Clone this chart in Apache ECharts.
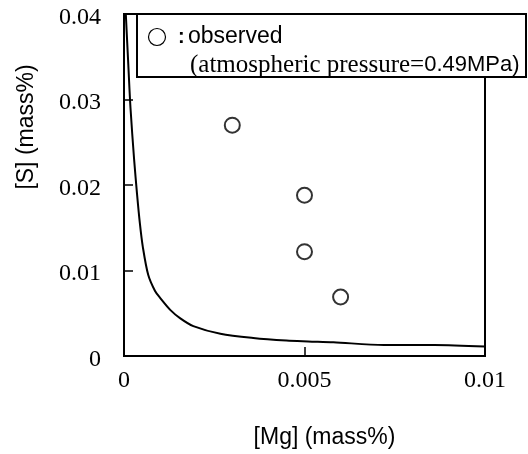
<!DOCTYPE html>
<html><head><meta charset="utf-8">
<script src="https://cdn.jsdelivr.net/npm/echarts@6/dist/echarts.min.js"></script>
<style>html,body{margin:0;padding:0;background:#fff}#c{width:528px;height:454px}</style>
</head><body><div id="c"></div>
<script>
// Calculated equilibrium curve ([Mg], [S])
var curveMg = [0.00005,0.00012,0.00018,0.00028,0.00036,0.00044,0.00052,0.00067,0.00086,0.001,0.00128,0.00156,0.00192,0.00267,0.00358,0.0045,0.0051,0.0058,0.0072,0.0086,0.01];
var curveS  = [0.04,0.034,0.029,0.023,0.019,0.0155,0.0128,0.0095,0.0076,0.0068,0.0054,0.0044,0.0035,0.0026,0.0021,0.0018,0.0017,0.0016,0.0013,0.0013,0.0011];
// Observed points
var obsMg = [0.003,0.005,0.005,0.006];
var obsS  = [0.027,0.0188,0.0122,0.0069];
// Axis ticks
var xTicks = [0,0.005,0.01];
var yTicks = [0,0.01,0.02,0.03,0.04];

var serif = '"Liberation Serif", "Times New Roman", serif';
var sans = '"Liberation Sans", Arial, sans-serif';
function fmt(v){ return String(+v.toFixed(4)); }
var chart = echarts.init(document.getElementById('c'));
chart.setOption({
  animation: false,
  backgroundColor: '#fff',
  grid: {left: 124, right: 43, top: 14, bottom: 92, show: true, borderColor: '#000', borderWidth: 2, backgroundColor: 'transparent'},
  xAxis: {
    type: 'value', min: xTicks[0], max: xTicks[xTicks.length-1], interval: xTicks[1]-xTicks[0],
    name: '[Mg] (mass%)', nameLocation: 'middle', nameGap: 70,
    nameTextStyle: {fontFamily: sans, fontSize: 23, color: '#000', padding: [0,0,0,40]},
    axisLine: {lineStyle: {color: '#000', width: 2}},
    axisTick: {inside: true, length: 9, lineStyle: {color: '#000', width: 1.5}},
    axisLabel: {fontFamily: serif, fontSize: 24, color: '#000', margin: 13, formatter: fmt},
    splitLine: {show: false}
  },
  yAxis: {
    type: 'value', min: yTicks[0], max: yTicks[yTicks.length-1], interval: yTicks[1]-yTicks[0],
    name: '[S] (mass%)', nameLocation: 'middle', nameGap: 86, nameRotate: 90,
    nameTextStyle: {fontFamily: sans, fontSize: 23, color: '#000', padding: [0,0,0,116]},
    axisLine: {lineStyle: {color: '#000', width: 2}},
    axisTick: {inside: true, length: 9, lineStyle: {color: '#000', width: 1.5}},
    axisLabel: {color: '#000', margin: 23,
      formatter: function(v){ return '{v|' + fmt(v) + '}'; },
      rich: {v: {fontFamily: serif, fontSize: 24, color: '#000', padding: [7,0,0,0]}}},
    splitLine: {show: false}
  },
  series: [
    {type: 'line', data: curveMg.map(function(x,i){return [x, curveS[i]];}), showSymbol: false, smooth: 0.3,
     lineStyle: {color: '#000', width: 2}, z: 3},
    {type: 'scatter', data: obsMg.map(function(x,i){return [x, obsS[i]];}), symbol: 'circle', symbolSize: 15,
     itemStyle: {color: '#fff', borderColor: '#000', borderWidth: 2}, z: 4}
  ],
  graphic: [
    {type: 'rect', z: 100, shape: {x: 137, y: 14, width: 389, height: 63}, style: {fill: '#fff', stroke: '#000', lineWidth: 2}},
    {type: 'circle', z: 101, shape: {cx: 157, cy: 37, r: 8.5}, style: {fill: '#fff', stroke: '#000', lineWidth: 1.2}},
    {type: 'text', z: 101, x: 178, y: 37, style: {text: ':', font: 'bold 20px ' + sans, fill: '#000', verticalAlign: 'middle'}},
    {type: 'text', z: 101, x: 188, y: 37, style: {text: 'observed', font: '23px ' + sans, fill: '#000', verticalAlign: 'middle'}},
    {type: 'text', z: 101, x: 190, y: 65, style: {
      text: '{a|(atmospheric pressure=}{b|0.49MPa)}', verticalAlign: 'middle',
      rich: {a: {fontFamily: serif, fontSize: 25, color: '#000'}, b: {fontFamily: sans, fontSize: 22, color: '#000'}}
    }}
  ]
});
</script></body></html>
